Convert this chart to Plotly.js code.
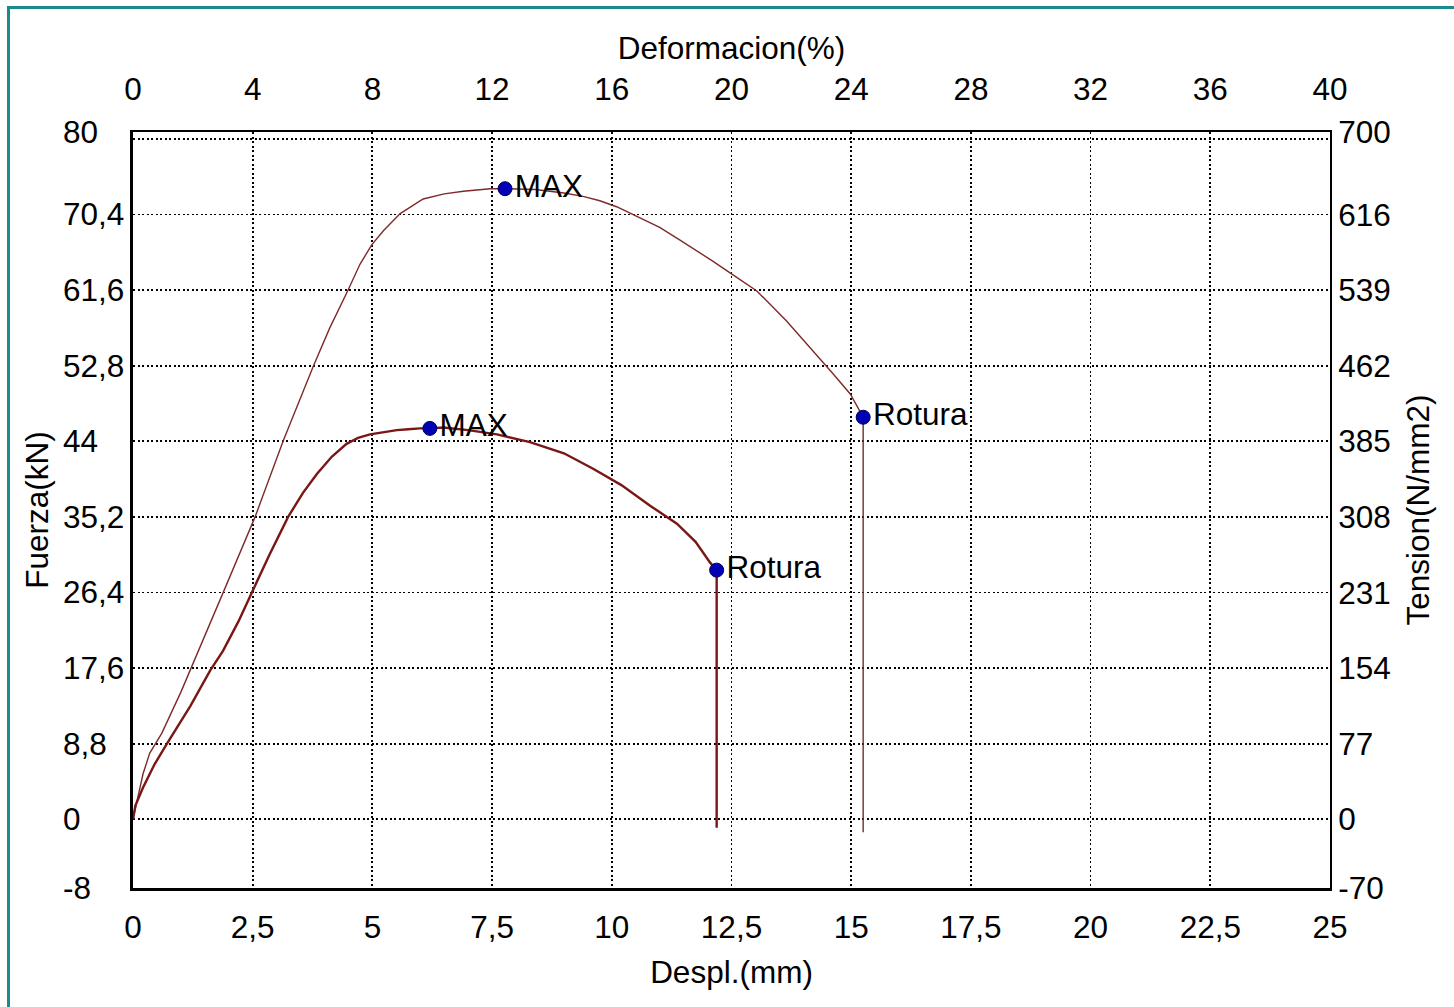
<!DOCTYPE html>
<html>
<head>
<meta charset="utf-8">
<script src="https://cdn.plot.ly/plotly-3.0.1.min.js"></script>
<style>
  html, body { margin: 0; padding: 0; background: #fff; }
  #wrap { position: relative; width: 1454px; height: 1007px; }
  #chart { position: absolute; left: 0; top: 0; width: 1454px; height: 1007px; }
  #frame { position: absolute; left: 7px; top: 6px; width: 1460px; height: 1020px;
           border-top: 3px solid #1a8a8a; border-left: 3px solid #1a8a8a; pointer-events: none; }
</style>
</head>
<body>
<div id="wrap">
  <div id="chart"></div>
  <div id="frame"></div>
</div>
<script>
// ---- Data ----
// Specimen A (lower curve): displacement (mm) and force (kN)
const despA = [0, 0.05, 0.21, 0.45, 0.71, 1.2, 1.61, 1.88, 2.2, 2.48, 2.85, 3.24, 3.55, 3.84, 4.15, 4.46, 4.7, 4.95, 5.25, 5.51, 5.75, 5.99, 6.2, 6.48, 7.0, 7.6, 8.29, 9.0, 9.61, 10.2, 10.8, 11.36, 11.75, 12.05, 12.19, 12.19];
const fuerzaA = [0, 1.6, 3.7, 6.4, 8.8, 13.2, 17.3, 19.6, 23.0, 26.4, 30.8, 35.2, 38.0, 40.2, 42.2, 43.7, 44.4, 44.8, 45.1, 45.3, 45.4, 45.5, 45.5, 45.6, 45.3, 44.8, 43.9, 42.6, 40.8, 38.9, 36.5, 34.4, 32.3, 29.9, 29.0, -1.0];
// Specimen B (upper curve)
const despB = [0, 0.1, 0.21, 0.35, 0.6, 1.0, 1.4, 1.96, 2.55, 3.14, 3.77, 4.11, 4.5, 4.74, 4.99, 5.23, 5.58, 6.06, 6.5, 6.9, 7.46, 7.77, 8.4, 9.0, 9.4, 9.75, 10.1, 10.45, 11.0, 11.4, 11.77, 12.1, 12.47, 13.03, 13.65, 14.21, 14.63, 14.98, 15.15, 15.25, 15.25];
const fuerzaB = [0, 2.5, 5.3, 7.7, 10.0, 14.8, 20.0, 27.4, 35.2, 44.1, 52.8, 57.2, 61.7, 64.6, 66.9, 68.5, 70.5, 72.2, 72.8, 73.1, 73.4, 73.4, 73.3, 72.9, 72.5, 72.0, 71.3, 70.4, 68.9, 67.5, 66.2, 65.0, 63.6, 61.5, 58.0, 54.5, 51.8, 49.5, 47.9, 46.8, -1.5];

// Marked points
const puntosDesp   = [6.2, 12.19, 7.77, 15.25];
const puntosFuerza = [45.5, 29.0, 73.4, 46.8];
const puntosTexto  = ['MAX', 'Rotura', 'MAX', 'Rotura'];

// Axis ticks / labels
const despTickVals  = [0, 2.5, 5, 7.5, 10, 12.5, 15, 17.5, 20, 22.5, 25];
const despTickText  = ['0', '2,5', '5', '7,5', '10', '12,5', '15', '17,5', '20', '22,5', '25'];
const deformTickVals = [0, 4, 8, 12, 16, 20, 24, 28, 32, 36, 40];
const deformTickText = ['0', '4', '8', '12', '16', '20', '24', '28', '32', '36', '40'];
const fuerzaGridVals = [0, 8.8, 17.6, 26.4, 35.2, 44, 52.8, 61.6, 70.4, 79.2];
const fuerzaLabelVals = [-8, 0, 8.8, 17.6, 26.4, 35.2, 44, 52.8, 61.6, 70.4, 80];
const fuerzaLabelText = ['-8', '0', '8,8', '17,6', '26,4', '35,2', '44', '52,8', '61,6', '70,4', '80'];
const tensionLabelText = ['-70', '0', '77', '154', '231', '308', '385', '462', '539', '616', '700'];

const FONT = 'Liberation Sans, Arial, sans-serif';
const FS = 31.5;

const traces = [
  { x: despB, y: fuerzaB, mode: 'lines', line: { color: '#7e2a2a', width: 1.4 }, hoverinfo: 'skip', showlegend: false },
  { x: despA, y: fuerzaA, mode: 'lines', line: { color: '#7a1616', width: 2.4 }, hoverinfo: 'skip', showlegend: false },
  { x: puntosDesp, y: puntosFuerza, text: puntosTexto, mode: 'markers+text', textposition: 'middle right',
    textfont: { family: FONT, size: FS, color: '#000' },
    marker: { size: 14, color: '#0000b4', line: { color: '#00005a', width: 1 } }, showlegend: false },
  // carrier for the secondary (top / right) axes
  { x: [0, 40], y: [-8, 80], xaxis: 'x2', yaxis: 'y2', mode: 'lines', line: { width: 0, color: 'rgba(0,0,0,0)' },
    hoverinfo: 'skip', showlegend: false }
];

const annotations = fuerzaLabelVals.map((v, i) => ({
  xref: 'paper', yref: 'y', x: -0.0605, y: v, xanchor: 'left', yanchor: 'middle',
  text: fuerzaLabelText[i], showarrow: false, font: { family: FONT, size: FS, color: '#000' }
}));

const layout = {
  width: 1454, height: 1007,
  margin: { l: 133, r: 124, t: 132, b: 119 },
  paper_bgcolor: '#fff', plot_bgcolor: '#fff',
  font: { family: FONT, size: FS, color: '#000' },
  showlegend: false,
  xaxis: {
    range: [0, 25], tickvals: despTickVals, ticktext: despTickText,
    showgrid: true, gridcolor: '#000', gridwidth: 1.8, griddash: '2px,2.5px',
    zeroline: false, showline: true, linecolor: '#000', linewidth: 3,
    ticks: '', ticklabelstandoff: 9,
    title: { text: 'Despl.(mm)', font: { family: FONT, size: FS }, standoff: 18 }
  },
  xaxis2: {
    range: [0, 40], tickvals: deformTickVals, ticktext: deformTickText,
    overlaying: 'x', side: 'top', anchor: 'y2',
    showgrid: false, zeroline: false, showline: true, linecolor: '#000', linewidth: 2,
    ticks: '', ticklabelstandoff: 17,
    title: { text: 'Deformacion(%)', font: { family: FONT, size: FS }, standoff: 2 }
  },
  yaxis: {
    range: [-8, 80], tickvals: fuerzaGridVals, showticklabels: false,
    showgrid: true, gridcolor: '#000', gridwidth: 1.8, griddash: '2px,2.5px',
    zeroline: false, showline: true, linecolor: '#000', linewidth: 3, ticks: '',
    title: { text: 'Fuerza(kN)', font: { family: FONT, size: FS }, standoff: 72 }
  },
  yaxis2: {
    range: [-8, 80], tickvals: fuerzaLabelVals, ticktext: tensionLabelText,
    overlaying: 'y', side: 'right', anchor: 'x2',
    showgrid: false, zeroline: false, showline: true, linecolor: '#000', linewidth: 2,
    ticks: '', ticklabelstandoff: 0,
    title: { text: 'Tension(N/mm2)', font: { family: FONT, size: FS }, standoff: 17 }
  },
  annotations: annotations
};

Plotly.newPlot('chart', traces, layout, { staticPlot: true, displayModeBar: false });
</script>
</body>
</html>
